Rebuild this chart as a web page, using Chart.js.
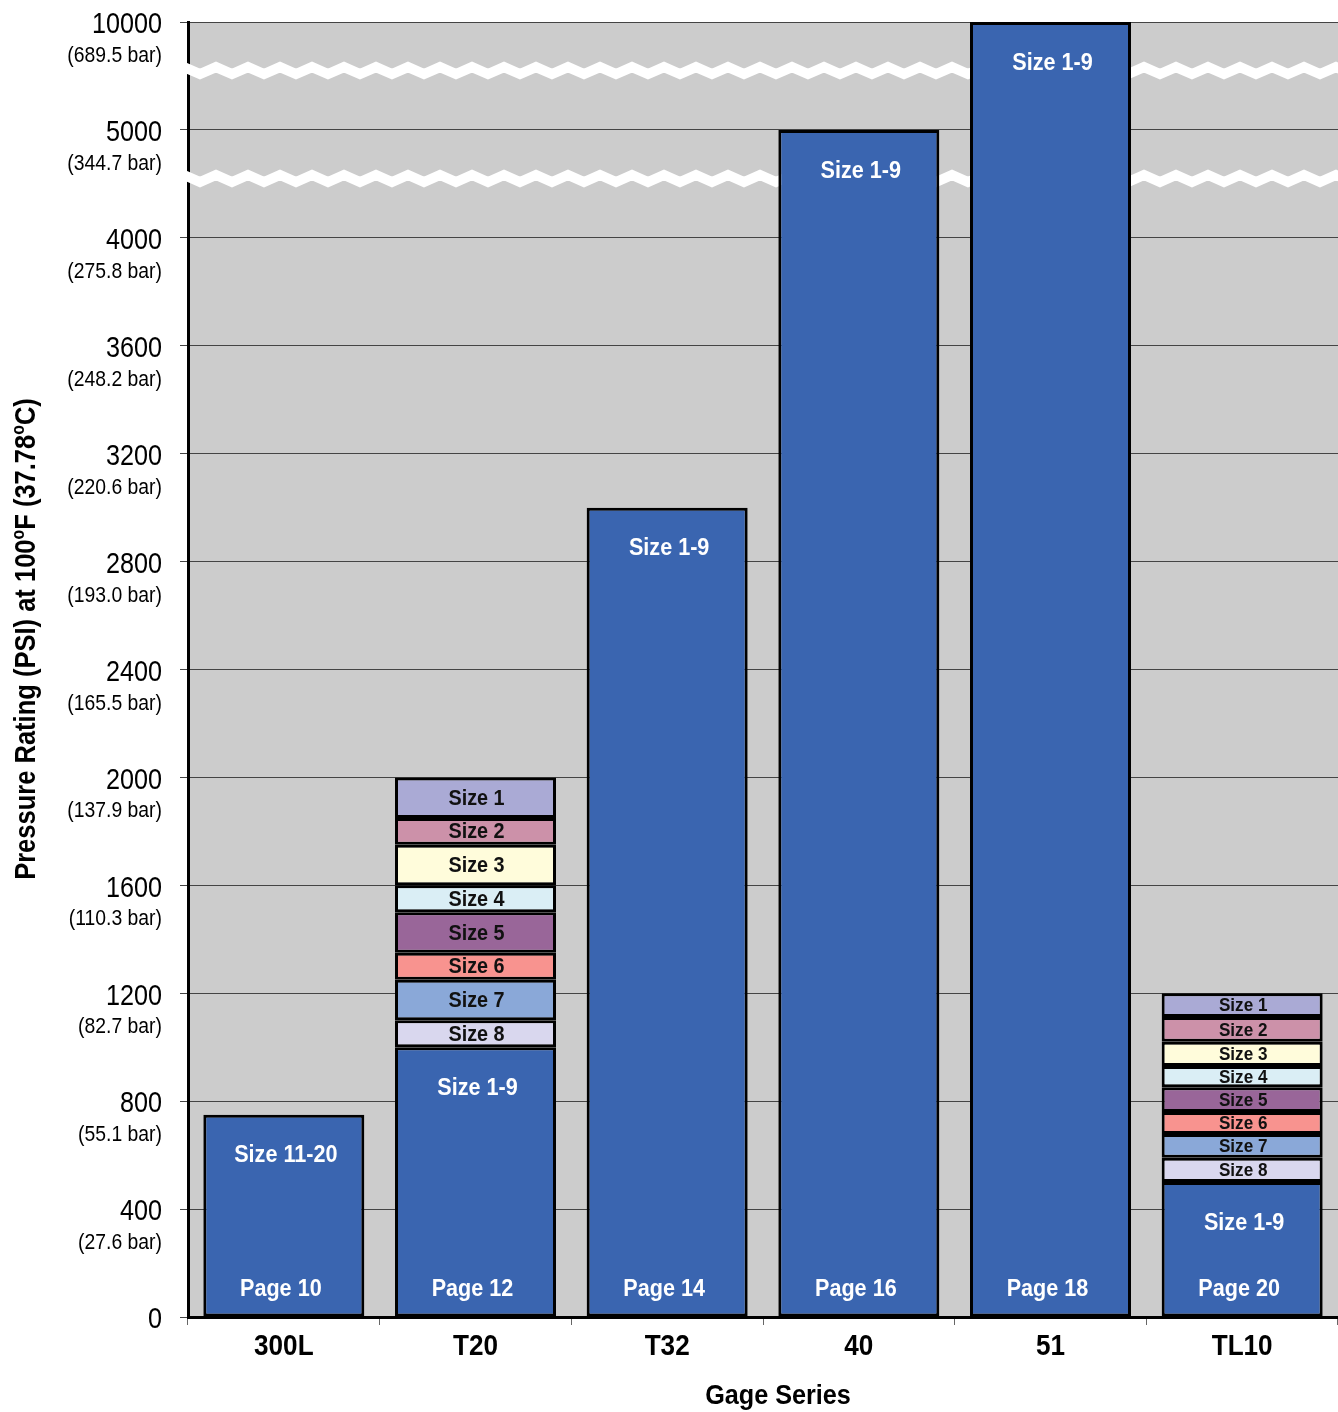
<!DOCTYPE html>
<html>
<head>
<meta charset="utf-8">
<script src="https://cdn.jsdelivr.net/npm/chart.js@4"></script>
<style>
    html, body { margin: 0; padding: 0; background: #fff; }
    #wrap { width: 1338px; height: 1412px; position: relative; }
</style>
</head>
<body>
<div id="wrap"><canvas id="chart"></canvas></div>
<script>
// Gage series on the x axis
const series = ['300L', 'T20', 'T32', '40', '51', 'TL10'];

// Base rating (PSI) of each series and its labels
const baseRating = [750, 1000, 3000, 5000, 10000, 500];
const baseLabels = ['Size 11-20', 'Size 1-9', 'Size 1-9', 'Size 1-9', 'Size 1-9', 'Size 1-9'];
const pageLabels = ['Page 10', 'Page 12', 'Page 14', 'Page 16', 'Page 18', 'Page 20'];

// Per-size ratings, Size 8 at the bottom up to Size 1 on top
const sizeLabels = ['Size 8', 'Size 7', 'Size 6', 'Size 5', 'Size 4', 'Size 3', 'Size 2', 'Size 1'];
const t20SizeTops = [1100, 1250, 1350, 1500, 1600, 1750, 1850, 2000];
const tl10SizeTops = [590, 678, 760, 852, 930, 1020, 1112, 1200];

// Axis ticks (broken axis: even steps up to 4000, then 5000, 10000)
const psiTicks = [0, 400, 800, 1200, 1600, 2000, 2400, 2800, 3200, 3600, 4000, 5000, 10000];
const barTicks = ['', '(27.6 bar)', '(55.1 bar)', '(82.7 bar)', '(110.3 bar)', '(137.9 bar)', '(165.5 bar)',
    '(193.0 bar)', '(220.6 bar)', '(248.2 bar)', '(275.8 bar)', '(344.7 bar)', '(689.5 bar)'];

const sizeColors = ['#D9D7EE', '#8AA8D8', '#F8938F', '#996699', '#DAEEF5', '#FFFCDB', '#CC91A9', '#AAAAD5'];
const BLUE = '#3A65B0';
const FONT = '"Liberation Sans", Arial, sans-serif';

/**
 * Maps a PSI value onto the broken axis (one unit per tick step)
 */
function toAxis(v) {
    if (v <= 4000) return v / 400;
    if (v <= 5000) return 10 + (v - 4000) / 1000;
    return 11 + (v - 5000) / 5000;
}

/**
 * Draws horizontally condensed text
 */
function drawText(ctx, text, x, y, font, color, align, sx) {
    ctx.save();
    ctx.translate(x, y);
    ctx.scale(sx, 1);
    ctx.font = font;
    ctx.fillStyle = color;
    ctx.textAlign = align;
    ctx.textBaseline = 'middle';
    ctx.fillText(text, 0, 0);
    ctx.restore();
}

const datasets = [];

datasets.push({
    label: 'Base',
    data: baseRating.map(v => [0, toAxis(v)]),
    backgroundColor: BLUE,
    borderColor: '#000',
    borderWidth: 3,
    borderSkipped: false,
    grouped: false,
    barPercentage: 0.84,
    categoryPercentage: 1.0,
    kind: 'base'
});

sizeLabels.forEach((name, i) => {
    const t20Low = i === 0 ? baseRating[1] : t20SizeTops[i - 1];
    const tl10Low = i === 0 ? baseRating[5] : tl10SizeTops[i - 1];
    datasets.push({
        label: name,
        data: series.map((s, j) => {
            if (j === 1) return [toAxis(t20Low), toAxis(t20SizeTops[i])];
            if (j === 5) return [toAxis(tl10Low), toAxis(tl10SizeTops[i])];
            return null;
        }),
        backgroundColor: sizeColors[i],
        borderColor: '#000',
        borderWidth: 3,
        borderSkipped: false,
        grouped: false,
        barPercentage: 0.84,
        categoryPercentage: 1.0,
        kind: 'size'
    });
});

// Gray plot background + white zigzag break marks (behind the bars)
const backgroundPlugin = {
    id: 'background',
    beforeDraw(chart) {
        const { ctx, chartArea: a } = chart;
        ctx.save();
        ctx.fillStyle = '#CCCCCC';
        ctx.fillRect(a.left, a.top, a.right - a.left, a.bottom - a.top);
        ctx.restore();
    },
    beforeDatasetsDraw(chart) {
        const { ctx, chartArea: a, scales } = chart;
        const breaks = [10.55, 11.55];
        const period = 32;
        ctx.save();
        ctx.strokeStyle = '#fff';
        ctx.lineWidth = 10;
        ctx.lineJoin = 'miter';
        breaks.forEach(b => {
            const y = scales.y.getPixelForValue(b);
            ctx.beginPath();
            let up = true;
            const x0 = a.left - 4;
            for (let x = x0; x <= a.right + period; x += period / 2) {
                const yy = y + (up ? -3.5 : 3.5);
                if (x === x0) ctx.moveTo(x, yy); else ctx.lineTo(x, yy);
                up = !up;
            }
            ctx.stroke();
        });
        ctx.restore();
    }
};

// All texts: bar labels, tick labels, axis titles
const labelPlugin = {
    id: 'labels',
    afterDatasetsDraw(chart) {
        const { ctx, scales, chartArea } = chart;

        chart.data.datasets.forEach((ds, di) => {
            const meta = chart.getDatasetMeta(di);
            meta.data.forEach((bar, j) => {
                if (ds.data[j] == null) return;
                if (ds.kind === 'base') {
                    drawText(ctx, baseLabels[j], bar.x + 2, bar.y + 41, 'bold 24px ' + FONT, '#fff', 'center', 0.9);
                    drawText(ctx, pageLabels[j], bar.x - 3, bar.base - 27, 'bold 24px ' + FONT, '#fff', 'center', 0.9);
                } else {
                    const size = j === 5 ? 19 : 22;
                    drawText(ctx, ds.label, bar.x + 1, (bar.y + bar.base) / 2 + 1, 'bold ' + size + 'px ' + FONT, '#111', 'center', 0.9);
                }
            });
        });

        // y tick labels (PSI + bar)
        const y = scales.y;
        psiTicks.forEach((t, i) => {
            const py = y.getPixelForValue(i);
            drawText(ctx, String(t), 162, py + 3, '30px ' + FONT, '#000', 'right', 0.84);
            if (barTicks[i]) {
                drawText(ctx, barTicks[i], 162, py + 34, '22px ' + FONT, '#000', 'right', 0.88);
            }
        });

        // x tick labels
        const x = scales.x;
        series.forEach((s, i) => {
            drawText(ctx, s, x.getPixelForValue(i), chartArea.bottom + 30, 'bold 29px ' + FONT, '#000', 'center', 0.9);
        });

        // x title
        drawText(ctx, 'Gage Series', 778, chartArea.bottom + 79, 'bold 28px ' + FONT, '#000', 'center', 0.9);

        // y title with superscript degree marks
        const parts = [
            ['Pressure Rating (PSI) at 100', false],
            ['o', true],
            ['F (37.78', false],
            ['o', true],
            ['C)', false]
        ];
        const sx = 0.88;
        const mainFont = 'bold 29px ' + FONT;
        const supFont = 'bold 18px ' + FONT;
        ctx.save();
        let total = 0;
        parts.forEach(p => {
            ctx.font = p[1] ? supFont : mainFont;
            total += ctx.measureText(p[0]).width * sx;
        });
        ctx.translate(35, 639);
        ctx.rotate(-Math.PI / 2);
        ctx.fillStyle = '#000';
        ctx.textBaseline = 'alphabetic';
        ctx.textAlign = 'left';
        let cx = -total / 2;
        parts.forEach(p => {
            ctx.font = p[1] ? supFont : mainFont;
            const w = ctx.measureText(p[0]).width * sx;
            ctx.save();
            ctx.translate(cx, p[1] ? -11 : 0);
            ctx.scale(sx, 1);
            ctx.fillText(p[0], 0, 0);
            ctx.restore();
            cx += w;
        });
        ctx.restore();
    }
};

new Chart(document.getElementById('chart').getContext('2d'), {
    type: 'bar',
    data: { labels: series, datasets: datasets },
    plugins: [backgroundPlugin, labelPlugin],
    options: {
        responsive: true,
        maintainAspectRatio: false,
        animation: false,
        layout: { padding: { top: 22, right: 0, bottom: 0, left: 0 } },
        plugins: {
            legend: { display: false },
            tooltip: { enabled: false }
        },
        scales: {
            x: {
                type: 'category',
                offset: true,
                afterFit(scale) { scale.height = 95; },
                grid: {
                    display: true,
                    drawOnChartArea: false,
                    drawTicks: true,
                    tickLength: 8,
                    color: '#666',
                    offset: true
                },
                border: { display: true, color: '#000', width: 3 },
                ticks: { display: false }
            },
            y: {
                type: 'linear',
                min: 0,
                max: 12,
                afterFit(scale) { scale.width = 188; },
                afterBuildTicks(scale) {
                    scale.ticks = psiTicks.map((t, i) => ({ value: i }));
                },
                grid: {
                    color: '#444',
                    lineWidth: 1,
                    drawTicks: true,
                    tickLength: 8
                },
                border: { display: true, color: '#000', width: 3 },
                ticks: { display: false }
            }
        }
    }
});
</script>
</body>
</html>
